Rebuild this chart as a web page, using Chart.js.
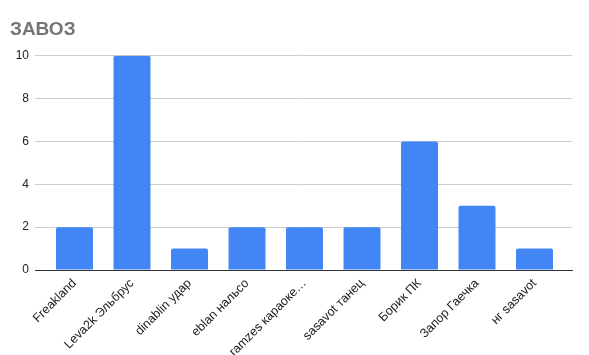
<!DOCTYPE html>
<html>
<head>
<meta charset="utf-8">
<script src="https://cdn.jsdelivr.net/npm/chart.js@4"></script>
<style>
  html, body { margin: 0; padding: 0; background: #fff; }
  #wrap { width: 589px; height: 355px; }
</style>
</head>
<body>
<div id="wrap"><canvas id="canvas"></canvas></div>
<script>
const categorias = ['Freakland', 'Leva2k Эльбрус', 'dinablin удар', 'eblan нальсо', 'ramzes караоке…', 'sasavot танец', 'Борик ПК', 'Запор Гаечка', 'нг sasavot'];
const valores = [2, 10, 1, 2, 2, 2, 6, 3, 1];
const ticksY = [0, 2, 4, 6, 8, 10];

Chart.defaults.font.family = 'Arial, "Liberation Sans", sans-serif';

// indice de categoria -> punto {x, y}
const puntos = valores.map((v, i) => ({ x: i, y: v }));

const ctx = document.getElementById('canvas');
new Chart(ctx, {
  type: 'bar',
  data: {
    datasets: [{
      label: 'ЗАВОЗ',
      data: puntos,
      backgroundColor: '#4285f4',
      borderRadius: { topLeft: 2, topRight: 2 },
      borderSkipped: 'bottom',
      categoryPercentage: 0.643,
      barPercentage: 1
    }]
  },
  options: {
    responsive: true,
    maintainAspectRatio: false,
    animation: false,
    layout: { padding: { left: 10, right: 17, top: 18, bottom: 0 } },
    plugins: {
      legend: { display: false },
      tooltip: { enabled: false },
      title: {
        display: true,
        text: 'ЗАВОЗ',
        align: 'start',
        color: '#757575',
        font: { size: 19, weight: 'bold' },
        padding: { top: 0, bottom: 15 }
      }
    },
    scales: {
      x: {
        type: 'linear',
        offset: false,
        min: -0.687,
        max: categorias.length - 1 + 0.652,
        afterBuildTicks: (scale) => { scale.ticks = categorias.map((c, i) => ({ value: i })); },
        afterFit: (scale) => { scale.height = 85; },
        grid: { display: false, drawTicks: false },
        border: { display: true, color: '#333', width: 1 },
        ticks: {
          color: '#222',
          font: { size: 12.5 },
          padding: 6,
          maxRotation: 45,
          minRotation: 45,
          autoSkip: false,
          callback: (v) => categorias[v]
        }
      },
      y: {
        min: 0,
        max: 10,
        afterBuildTicks: (scale) => { scale.ticks = ticksY.map(v => ({ value: v })); },
        afterFit: (scale) => { scale.width = 25; },
        grid: { color: '#cccccc', drawTicks: false },
        border: { display: false },
        ticks: { color: '#222', font: { size: 12 }, padding: 6 }
      }
    }
  }
});
</script>
</body>
</html>
